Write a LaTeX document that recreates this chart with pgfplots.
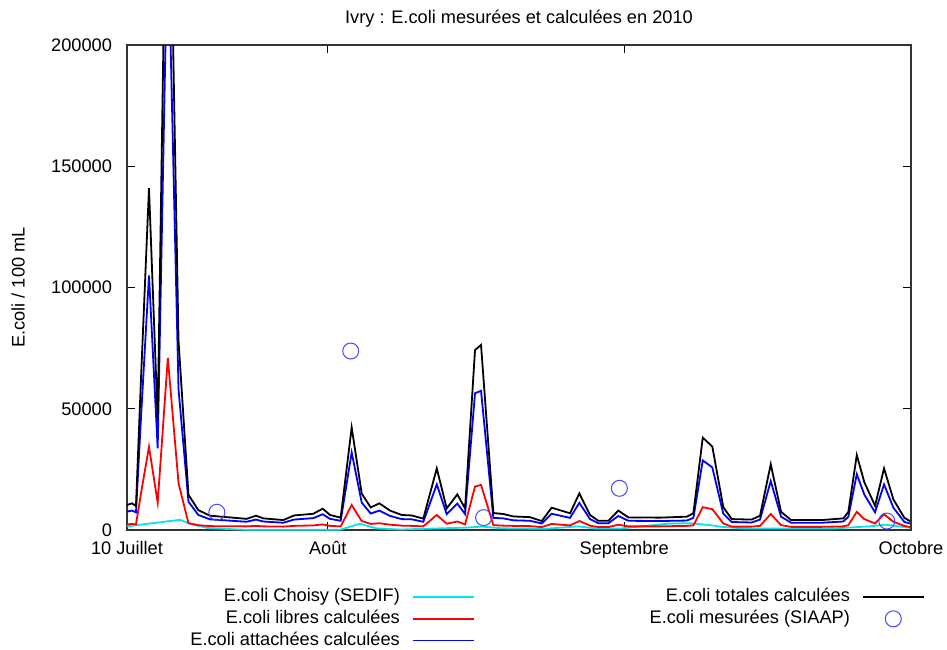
\documentclass[border=0pt]{standalone}
\usepackage{pgfplots}
\pgfplotsset{compat=1.18}
\usepackage{pgfplotstable}
\usepackage{fontspec}
\setmainfont{Liberation Sans}

\definecolor{sedif}{RGB}{0,230,240}
\definecolor{siaap}{RGB}{70,70,255}

\pgfplotsset{
  linelegend/.style={legend image code/.code={\draw[line width=0.9pt, draw=#1] (0pt,0pt) -- (30.5pt,0pt);}},
  circlegend/.style={legend image code/.code={\draw[line width=0.5pt, draw=#1] (15.25pt,0pt) circle[radius=4pt];}},
}

% days counted from 10 July 2010; tot = totales, att = attachees, lib = libres
\pgfplotstableread{
d     tot     att     lib
0.00  10300   7600    2300
0.52  11000   8000    2500
0.94  9900    7300    2300
1.46  62000   46000   15000
2.30  141000  105000  34300
3.21  45400   33700   11300
4.27  320000  250000  71000
5.39  78000   58000   19300
6.43  14500   11700   2800
7.46  8200    6200    2000
8.68  5900    4400    1600
12.52 4600    3400    1500
13.49 5900    4300    1700
14.26 4800    3500    1500
16.35 4100    3000    1400
17.47 6000    4300    1700
19.49 6700    4900    1900
20.47 8800    6500    2300
21.23 6200    4600    1700
22.35 5100    3800    1500
23.50 42300   32000   10300
24.55 15000   11300   3700
25.49 9300    6800    2500
26.39 11000   8000    2800
27.51 8000    5800    2200
28.73 6200    4500    1800
29.78 6000    4400    1700
30.99 4700    3400    1500
32.40 25400   18800   6200
33.44 8900    6500    2600
34.55 14700   10900   3500
35.36 8900    6600    2300
36.40 74200   56400   17900
37.03 76300   57400   18600
38.32 7000    5000    2000
39.36 6600    4800    1800
40.41 5600    4000    1700
42.15 5300    3800    1600
43.38 3700    2700    1200
44.42 9200    6700    2500
46.34 6900    5000    1900
47.31 15100   11200   3700
48.43 6200    4500    1800
49.30 3800    2800    1200
50.35 3800    2800    1200
51.39 8000    5800    2200
52.44 5200    3800    1500
55.75 5100    3700    1500
58.55 5500    3900    1700
59.24 6900    5000    1900
60.22 38100   28700   9400
61.22 34400   25800   8600
62.37 9400    6700    2700
63.25 4500    3300    1400
65.33 4300    3100    1400
66.21 5900    4300    1700
67.33 27100   20200   6600
68.41 7500    5500    2000
69.46 4100    3000    1300
72.67 4100    3000    1300
74.93 4800    3500    1500
75.45 7500    5500    2000
76.33 30900   23000   7500
77.12 19700   14600   4500
78.24 10000   7300    2700
79.18 25400   18800   6500
80.16 12600   9200    3400
81.31 5000    3300    1700
81.90 3700    2700    1200
}\calc

\pgfplotstableread{
d     v
0.00  1500
5.54  4200
6.59  2600
8.47  800
12.34 100
22.28 100
24.37 2600
26.05 700
28.56 200
35.56 1000
37.13 1400
39.23 700
43.72 500
47.18 1500
49.16 600
51.57 600
56.59 2600
58.89 2800
60.98 2000
62.24 1300
64.64 600
73.54 600
77.72 1500
79.29 2200
81.38 1200
81.90 1000
}\choisy

\pgfplotstableread{
d     v
9.40  7300
23.40 73800
37.30 5100
51.50 17200
79.47 3700
}\mesures

\begin{document}
\begin{tikzpicture}[font=\fontsize{9.1}{11}\selectfont]
\useasboundingbox (-63.5pt,-59.5pt) rectangle (410pt,265pt);
\begin{axis}[
  scale only axis,
  width=392pt, height=242.5pt,
  xmin=0, xmax=82, ymin=0, ymax=200000,
  xtick={0,21,52,82},
  xticklabels={10 Juillet, Août, Septembre, Octobre},
  ytick={0,50000,100000,150000,200000},
  scaled y ticks=false,
  /pgf/number format/assume math mode=true,
  yticklabel style={/pgf/number format/fixed, /pgf/number format/1000 sep={}, xshift=-4pt},
  xticklabel style={yshift=-2pt},
  tick align=inside,
  major tick length=4pt,
  axis line style={black!80, line width=0.8pt},
  every tick/.style={black, line width=0.6pt},
  title={Ivry : E.coli mesurées et calculées en 2010},
  every axis title/.style={at={(axis description cs:0.5,1)}, anchor=center, yshift=13pt},
  ylabel={E.coli / 100 mL},
  every axis y label/.style={at={(axis description cs:-0.139,0.5)}, rotate=90, anchor=center},
  legend columns=2,
  legend plot pos=right,
  legend cell align=right,
  legend style={at={(axis description cs:0.0804,-0.1175)}, anchor=north west,
    draw=none, fill=none, inner sep=0pt, row sep=1.173pt,
    nodes={inner sep=0pt, text height=0.72em, text depth=0.25em},
    /tikz/every odd column/.append style={column sep=6pt},
    /tikz/every even column/.append style={column sep=87.5pt}},
]
\addplot[sedif, line width=0.9pt, forget plot] table[x=d, y=v] {\choisy};
\addplot[red, line width=0.9pt, forget plot] table[x=d, y=lib] {\calc};
\addplot[blue, line width=0.9pt, forget plot] table[x=d, y=att] {\calc};
\addplot[black, line width=0.9pt, forget plot] table[x=d, y=tot] {\calc};
\addplot[only marks, mark=o, mark size=4pt, siaap, mark options={line width=0.5pt}, forget plot]
  table[x=d, y=v] {\mesures};

\addlegendimage{linelegend=sedif}
\addlegendentry{E.coli Choisy (SEDIF)}
\addlegendimage{linelegend=black}
\addlegendentry{E.coli totales calculées}
\addlegendimage{linelegend=red}
\addlegendentry{E.coli libres calculées}
\addlegendimage{circlegend=siaap}
\addlegendentry{E.coli mesurées (SIAAP)}
\addlegendimage{linelegend=blue}
\addlegendentry{E.coli attachées calculées}
\addlegendimage{empty legend}
\addlegendentry{}
\end{axis}
\end{tikzpicture}
\end{document}
